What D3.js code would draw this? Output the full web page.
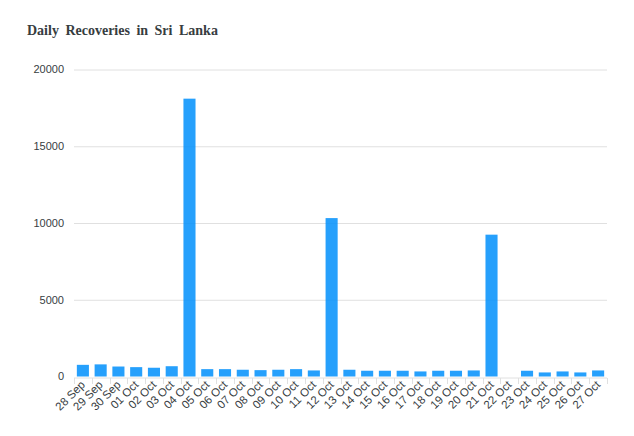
<!DOCTYPE html>
<html>
<head>
<meta charset="utf-8">
<script src="https://cdn.jsdelivr.net/npm/d3@7"></script>
<style>
	body { margin: 0; background: #fff; }
	svg { display: block; }
</style>
</head>
<body>
<div id="chart"></div>
<script>
'use strict';

// dates on the x axis
var days = [
	"28 Sep", "29 Sep", "30 Sep", "01 Oct", "02 Oct", "03 Oct", "04 Oct", "05 Oct",
	"06 Oct", "07 Oct", "08 Oct", "09 Oct", "10 Oct", "11 Oct", "12 Oct", "13 Oct",
	"14 Oct", "15 Oct", "16 Oct", "17 Oct", "18 Oct", "19 Oct", "20 Oct", "21 Oct",
	"22 Oct", "23 Oct", "24 Oct", "25 Oct", "26 Oct", "27 Oct"
];

// recoveries per day
var recoveries = [
	760, 790, 650, 610, 570, 670, 18100, 480,
	480, 440, 415, 440, 480, 395, 10320, 440,
	375, 375, 375, 330, 375, 375, 395, 9240,
	0, 375, 265, 330, 265, 395
];

var yTicks = [0, 5000, 10000, 15000, 20000];

var width = 634, height = 436;
var margin = { top: 69.5, right: 27, bottom: 59.5, left: 74 };

var svg = d3.select("#chart").append("svg")
	.attr("width", width)
	.attr("height", height);

svg.append("text")
	.attr("x", 27)
	.attr("y", 35)
	.attr("fill", "#373d3f")
	.style("font-family", "'Liberation Serif', serif")
	.style("font-weight", "bold")
	.style("font-size", "14px")
	.style("word-spacing", "3px")
	.text("Daily Recoveries in Sri Lanka");

var x = d3.scaleBand()
	.domain(days)
	.range([margin.left, width - margin.right])
	.paddingInner(0.32)
	.paddingOuter(0.16);

var y = d3.scaleLinear()
	.domain([0, 20000])
	.range([height - margin.bottom, margin.top]);

// gridlines
svg.append("g")
	.selectAll("line")
	.data(yTicks.slice(1))
	.enter()
	.append("line")
	.attr("x1", margin.left)
	.attr("x2", width - margin.right)
	.attr("y1", function (d) { return y(d) + 0.5; })
	.attr("y2", function (d) { return y(d) + 0.5; })
	.attr("stroke", "#e0e0e0");

// y labels
svg.append("g")
	.selectAll("text")
	.data(yTicks)
	.enter()
	.append("text")
	.attr("x", 64)
	.attr("y", function (d) { return y(d); })
	.attr("dy", "0.35em")
	.attr("text-anchor", "end")
	.attr("fill", "#373d3f")
	.style("font-family", "'Liberation Sans', Arial, sans-serif")
	.style("font-size", "11px")
	.text(function (d) { return d; });

// bars
svg.append("g")
	.selectAll("rect")
	.data(recoveries)
	.enter()
	.append("rect")
	.attr("x", function (d, i) { return x(days[i]); })
	.attr("width", x.bandwidth())
	.attr("y", function (d) { return y(d); })
	.attr("height", function (d) { return y(0) - y(d); })
	.attr("fill", "#008FFB")
	.attr("fill-opacity", 0.85);

// x axis line and ticks at category edges
var axisY = y(0) + 1.5;
var step = x.step();
svg.append("line")
	.attr("x1", margin.left)
	.attr("x2", width - margin.right)
	.attr("y1", axisY)
	.attr("y2", axisY)
	.attr("stroke", "#e0e0e0");

svg.append("g")
	.selectAll("line")
	.data(d3.range(days.length + 1))
	.enter()
	.append("line")
	.attr("x1", function (i) { return Math.round(margin.left + i * step) + 0.5; })
	.attr("x2", function (i) { return Math.round(margin.left + i * step) + 0.5; })
	.attr("y1", axisY)
	.attr("y2", axisY + 6)
	.attr("stroke", "#e0e0e0");

// rotated date labels
svg.append("g")
	.selectAll("text")
	.data(days)
	.enter()
	.append("text")
	.attr("transform", function (d) {
		var cx = x(d) + x.bandwidth() / 2 + 3;
		return "translate(" + cx + "," + (axisY + 7.5) + ") rotate(-45)";
	})
	.attr("text-anchor", "end")
	.attr("fill", "#373d3f")
	.style("font-family", "'Liberation Sans', Arial, sans-serif")
	.style("font-size", "11.5px")
	.text(function (d) { return d; });
</script>
</body>
</html>
